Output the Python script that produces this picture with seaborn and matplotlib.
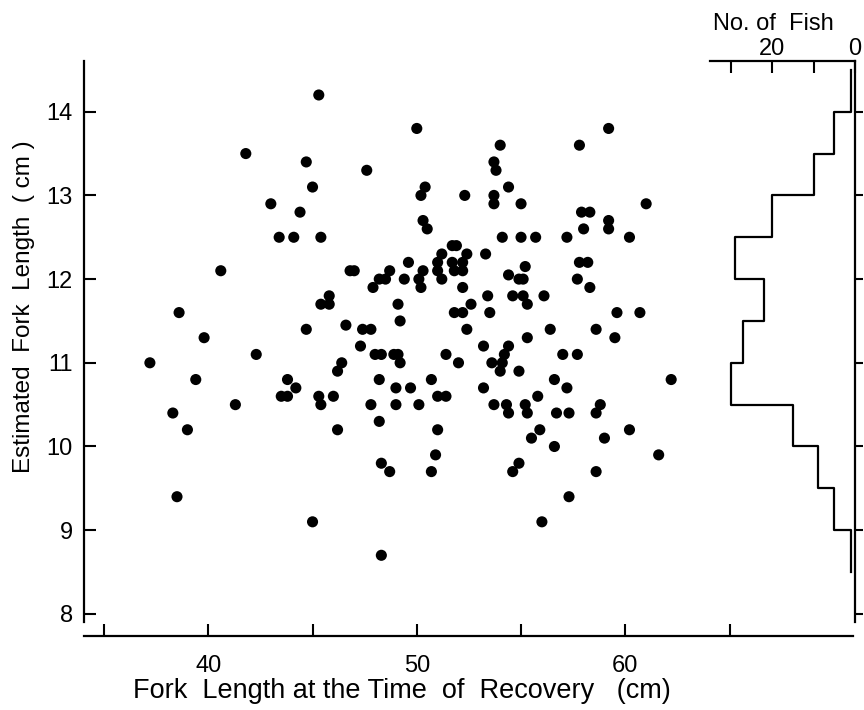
import matplotlib
matplotlib.use("Agg")
import matplotlib.pyplot as plt
import seaborn as sns
import numpy as np
import pandas as pd

# ---- data ----
fork_length_recovery = [
    45.3, 41.8, 44.7, 47.6, 45.0, 43.0, 44.4, 43.4, 44.1, 45.4,
    40.6, 38.6, 39.8, 46.8, 47.0, 48.7, 48.2, 48.5, 47.9, 49.4,
    49.6, 45.8, 45.4, 45.8, 49.1, 49.2, 44.7, 46.6, 47.4, 47.8,
    37.2, 42.3, 39.4, 38.3, 39.0, 41.3, 43.8, 43.5, 43.8, 44.2,
    45.3, 45.4, 46.0, 46.4, 46.2, 46.2, 47.3, 48.0, 48.3, 48.9,
    49.1, 49.2, 48.2, 49.0, 49.7, 47.8, 49.0, 48.2, 48.3, 48.7,
    38.5, 45.0, 48.3, 50.0, 59.2, 54.0, 57.8, 53.7, 53.8, 50.4,
    50.2, 52.3, 53.7, 53.7, 54.4, 55.0, 61.0, 57.9, 58.3, 59.2,
    59.2, 58.0, 50.3, 50.5, 54.1, 55.0, 55.7, 57.2, 60.2, 51.7,
    51.9, 51.2, 52.4, 53.3, 50.3, 50.1, 50.2, 51.0, 51.0, 51.2,
    51.7, 51.8, 52.2, 52.2, 52.2, 54.4, 54.9, 55.1, 55.2, 57.7,
    57.8, 58.2, 58.3, 52.6, 53.4, 53.5, 51.8, 52.2, 52.4, 54.6,
    55.1, 55.3, 56.1, 56.4, 55.3, 58.6, 59.5, 59.6, 60.7, 53.2,
    54.4, 54.2, 54.1, 53.6, 54.0, 54.9, 51.4, 52.0, 50.7, 51.0,
    51.4, 50.1, 51.0, 50.9, 50.7, 53.2, 53.7, 54.3, 54.4, 55.2,
    55.3, 55.8, 56.6, 57.2, 57.0, 57.7, 56.7, 57.3, 58.6, 58.8,
    62.2, 55.5, 55.9, 56.6, 60.2, 59.0, 61.6, 54.6, 54.9, 58.6,
    57.3, 56.0,
]
estimated_fork_length = [
    14.2, 13.5, 13.4, 13.3, 13.1, 12.9, 12.8, 12.5, 12.5, 12.5,
    12.1, 11.6, 11.3, 12.1, 12.1, 12.1, 12.0, 12.0, 11.9, 12.0,
    12.2, 11.8, 11.7, 11.7, 11.7, 11.5, 11.4, 11.45, 11.4, 11.4,
    11.0, 11.1, 10.8, 10.4, 10.2, 10.5, 10.8, 10.6, 10.6, 10.7,
    10.6, 10.5, 10.6, 11.0, 10.9, 10.2, 11.2, 11.1, 11.1, 11.1,
    11.1, 11.0, 10.8, 10.7, 10.7, 10.5, 10.5, 10.3, 9.8, 9.7,
    9.4, 9.1, 8.7, 13.8, 13.8, 13.6, 13.6, 13.4, 13.3, 13.1,
    13.0, 13.0, 13.0, 12.9, 13.1, 12.9, 12.9, 12.8, 12.8, 12.7,
    12.6, 12.6, 12.7, 12.6, 12.5, 12.5, 12.5, 12.5, 12.5, 12.4,
    12.4, 12.3, 12.3, 12.3, 12.1, 12.0, 11.9, 12.2, 12.1, 12.0,
    12.2, 12.1, 12.1, 12.2, 11.9, 12.05, 12.0, 12.0, 12.15, 12.0,
    12.2, 12.2, 11.9, 11.7, 11.8, 11.6, 11.6, 11.6, 11.4, 11.8,
    11.8, 11.7, 11.8, 11.4, 11.3, 11.4, 11.3, 11.6, 11.6, 11.2,
    11.2, 11.1, 11.0, 11.0, 10.9, 10.9, 11.1, 11.0, 10.8, 10.6,
    10.6, 10.5, 10.2, 9.9, 9.7, 10.7, 10.5, 10.5, 10.4, 10.5,
    10.4, 10.6, 10.8, 10.7, 11.1, 11.1, 10.4, 10.4, 10.4, 10.5,
    10.8, 10.1, 10.2, 10.0, 10.2, 10.1, 9.9, 9.7, 9.8, 9.7,
    9.4, 9.1,
]

hist_bin_edges = [8.5, 9.0, 9.5, 10.0, 10.5, 11.0, 11.5, 12.0, 12.5, 13.0, 13.5, 14.0, 14.5]
hist_counts = [1, 5, 9, 15, 30, 27, 22, 29, 20, 10, 5, 1]

x_ticks = [35, 40, 45, 50, 55, 60, 65]
x_tick_labels = ["", "40", "", "50", "", "60", ""]
y_ticks = [8, 9, 10, 11, 12, 13, 14]
hist_ticks = [30, 20, 10, 0]
hist_tick_labels = ["", "20", "", "0"]

# ---- figure ----
plt.rcParams["font.family"] = ["Liberation Sans", "DejaVu Sans"]
W, H = 864, 710
fig = plt.figure(figsize=(W / 100, H / 100), dpi=100)


def rect(l, t, r, b):
    return [l / W, 1 - b / H, (r - l) / W, (b - t) / H]


ax = fig.add_axes(rect(84, 61, 853, 622))
ax_h = fig.add_axes(rect(710, 61, 855, 622))

ylim = (7.903, 14.606)

df = pd.DataFrame({"x": fork_length_recovery, "y": estimated_fork_length})
sns.scatterplot(data=df, x="x", y="y", color="black", s=64, linewidth=0,
                edgecolor="none", ax=ax, legend=False)
ax.set_xlim(34.04, 70.92)
ax.set_ylim(*ylim)
ax.set_xlabel("")
ax.set_ylabel("")
ax.set_xticks(x_ticks)
ax.set_xticklabels(x_tick_labels)
ax.set_yticks(y_ticks)
ax.set_yticklabels([str(t) for t in y_ticks])
for s in ["top", "right"]:
    ax.spines[s].set_visible(False)
for s in ["left", "bottom"]:
    ax.spines[s].set_linewidth(1.6)
ax.spines["bottom"].set_position(("outward", 10))
ax.tick_params(axis="both", direction="in", length=8.5, width=1.5,
               labelsize=17, colors="black")
ax.tick_params(axis="x", pad=14)
ax.tick_params(axis="y", pad=8)
ax.patch.set_alpha(0)

# histogram panel
bin_edges = np.array(hist_bin_edges)
bin_centers = (bin_edges[:-1] + bin_edges[1:]) / 2
sns.histplot(y=bin_centers, weights=hist_counts, bins=hist_bin_edges,
             element="step", fill=False, color="black", linewidth=1.6, ax=ax_h)
ax_h.set_xlim(35, 0)
ax_h.set_ylim(*ylim)
ax_h.set_xlabel("")
ax_h.set_ylabel("")
ax_h.patch.set_alpha(0)
for s in ["left", "bottom"]:
    ax_h.spines[s].set_visible(False)
for s in ["top", "right"]:
    ax_h.spines[s].set_linewidth(1.6)
ax_h.set_xticks(hist_ticks)
ax_h.set_xticklabels(hist_tick_labels)
ax_h.set_yticks(y_ticks)
ax_h.tick_params(axis="x", direction="in", length=8.5, width=1.5, top=True,
                 bottom=False, labeltop=True, labelbottom=False, labelsize=17, pad=1)
ax_h.tick_params(axis="y", direction="out", length=6, width=1.5, right=True,
                 left=False, labelright=False, labelleft=False)

fig.text(773 / W, 1 - 24 / H, "No. of  Fish", ha="center", va="center", fontsize=17)
fig.text(24 / W, 1 - 307 / H, "Estimated  Fork  Length  ( cm )", rotation=90,
         ha="center", va="center", fontsize=17.5)
fig.text(402 / W, 1 - 691 / H, "Fork  Length at the Time  of  Recovery   (cm)",
         ha="center", va="center", fontsize=19.5)

fig.savefig("out.png", dpi=100)
